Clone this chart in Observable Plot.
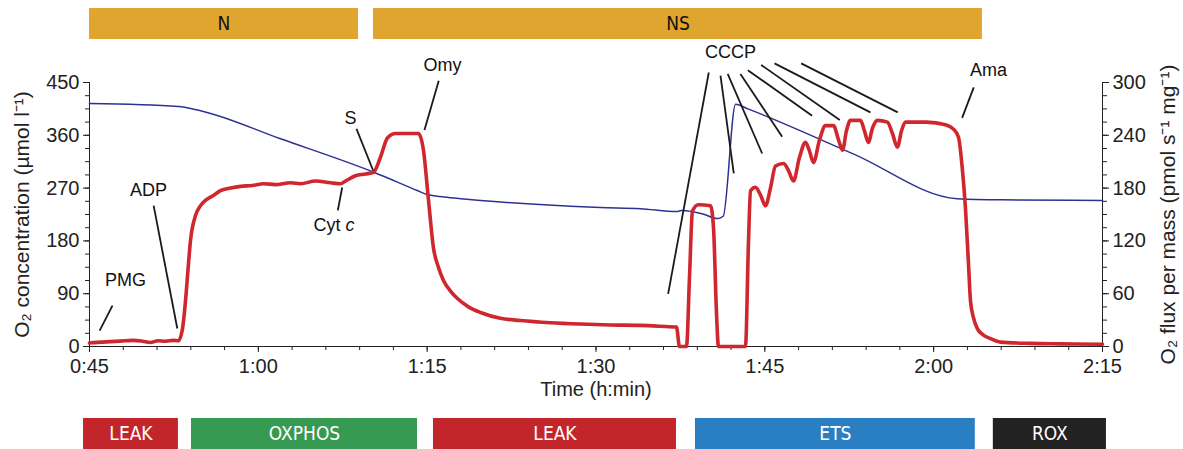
<!DOCTYPE html>
<html><head><meta charset="utf-8">
<script src="https://cdn.jsdelivr.net/npm/d3@7"></script>
<script src="https://cdn.jsdelivr.net/npm/@observablehq/plot@0.6"></script>
<style>body{margin:0;background:#fff}</style>
</head><body><div id="chart"></div>
<script>
// O2 concentration (µmol/l) — blue line, left axis
const concTime =  [45, 52.9, 54.86, 61.97, 70.26, 74.11, 75.0, 76.5, 78.0, 79.74, 85, 90.4, 93.95, 97.2, 97.6, 99.5, 100.76, 101.3, 102.4, 103.5, 112.9, 122.1, 126, 135];
const concValues = [414, 409, 402, 354, 297, 266, 259, 255, 252, 249, 242, 237, 235, 230, 232, 226, 218, 222, 413, 405, 328, 252, 250, 249];

// O2 flux per mass (pmol s-1 mg-1) — red line, right axis
const fluxTime = [45.0, 45.98, 46.87, 48.2, 48.9, 49.7, 50.4, 51.1, 51.75, 52.46, 52.9, 53.26, 53.53, 53.8, 53.97, 54.42, 54.86, 55.3, 55.93, 56.64, 57.53, 58.42, 59.48, 60.46, 61.52, 62.86, 63.75, 65.08, 66.41, 67.3, 67.74, 68.63, 69.52, 70.23, 70.85, 71.47, 72.19, 74.23, 74.67, 75.12, 75.56, 76.0, 76.45, 77.07, 77.69, 78.67, 79.74, 81.51, 83.29, 85.96, 88.62, 91.29, 93.95, 95.73, 97.15, 97.42, 98.04, 98.31, 98.57, 99.1, 100.17, 100.44, 100.7, 100.88, 103.28, 103.55, 103.73, 104.17, 104.62, 105.06, 105.5, 105.95, 106.66, 107.1, 107.54, 108.08, 108.61, 108.97, 109.32, 109.86, 110.39, 111.1, 111.54, 111.9, 112.25, 112.61, 113.5, 113.85, 114.2, 114.56, 115.0, 115.89, 116.34, 116.78, 117.14, 117.5, 119.36, 121.05, 121.76, 122.2, 122.56, 122.82, 123.09, 123.27, 123.53, 123.89, 124.42, 125.05, 125.93, 128.6, 131.27, 135.0];
const fluxValues = [4, 5, 5.5, 6.5, 7, 6, 4.5, 6.5, 6, 7, 6.5, 20, 52, 95, 120, 149, 160, 166, 171, 177, 180, 182, 183, 185, 184, 186, 185, 188, 186, 185, 188, 194, 196, 198, 215, 237, 242, 242, 223, 166, 112, 90, 75, 63, 54.5, 45, 38.6, 32, 29.5, 27, 25.5, 24.5, 24, 23, 22, 0, 0, 80, 154, 161, 160, 135, 40, 0, 0, 120, 177, 181, 172, 160, 180, 205, 208, 200, 188, 215, 232, 222, 209, 235, 251, 251, 235, 223, 245, 257, 257, 245, 232, 248, 257, 255, 242, 226.5, 245, 255, 255, 252, 247, 238, 200, 158, 95, 52, 33, 20, 13, 9, 5, 3.5, 3, 2.5];

// Time ticks (minutes), left / right tick values
const timeTicks = [45, 60, 75, 90, 105, 120, 135];
const concTicks = [0, 90, 180, 270, 360, 450];
const fluxTicks = [0, 60, 120, 180, 240, 300];

// Substrate / state bars
const topLabels = ["N", "NS"];
const topStart = [45.0, 70.23];
const topEnd = [68.9, 124.33];
const stateLabels = ["LEAK", "OXPHOS", "LEAK", "ETS", "ROX"];
const stateStart = [44.47, 54.06, 75.56, 98.84, 125.3];
const stateEnd = [52.9, 74.14, 97.15, 123.7, 135.35];
const stateColors = ["#c2262b", "#379a53", "#c2262b", "#2a7fc3", "#222222"];

// Annotations (time, O2-concentration units)
const annoLabels = ["PMG", "ADP", "S", "Omy", "CCCP", "Ama"];
const annoT = [48.2, 50.24, 68.19, 76.36, 101.95, 124.87];
const annoV = [112.5, 266, 388.6, 479, 501, 470.5];
const linkT1 = [47.04, 50.7, 67.45, 68.72, 76.03, 100.02, 101.06, 101.7, 102.83, 103.49, 104.67, 105.86, 108.23, 123.56];
const linkV1 = [69.8, 240, 271, 371, 453, 467, 461.7, 464.6, 464.6, 471, 480, 482.6, 482.6, 441.7];
const linkT2 = [45.9, 52.8, 67.06, 70.2, 74.76, 96.41, 102.24, 104.76, 106.54, 109.2, 111.66, 114.38, 116.81, 122.53];
const linkV2 = [27, 30.7, 232, 300, 369, 89.8, 295, 329, 357.7, 393.5, 386, 399, 399, 389.6];

const k = 1.5; // flux -> concentration scale (300 flux = 450 conc)
const conc = concTime.map((t, i) => ({t, v: concValues[i]}));
const flux = fluxTime.map((t, i) => ({t, v: fluxValues[i] * k}));
const tops = topLabels.map((l, i) => ({l, a: topStart[i], b: topEnd[i]}));
const states = stateLabels.map((l, i) => ({l, a: stateStart[i], b: stateEnd[i], c: stateColors[i]}));
const annos = annoLabels.map((l, i) => ({l, t: annoT[i], v: annoV[i]}));
const links = linkT1.map((t, i) => ({t1: t, v1: linkV1[i], t2: linkT2[i], v2: linkV2[i]}));

const fmtTime = t => `${Math.floor(t / 60)}:${String(t % 60).padStart(2, "0")}`;
const narrow = "'Liberation Sans Narrow','DejaVu Sans Condensed','Roboto Condensed','Liberation Sans',sans-serif";

const chart = Plot.plot({
  width: 1183, height: 449,
  marginLeft: 89, marginRight: 81, marginTop: 82, marginBottom: 103,
  x: {domain: [45, 135]},
  y: {domain: [0, 450]},
  style: {fontFamily: "'Liberation Sans', Arial, sans-serif", fontSize: "18px", color: "#222", background: "white"},
  marks: [
    // top substrate bars
    Plot.rect(tops, {x1: "a", x2: "b", y1: () => 523.3, y2: () => 576.1, fill: "#e0a52e", clip: false}),
    Plot.text(tops, {x: d => (d.a + d.b) / 2, y: () => 549.7, text: "l", fill: "#111", fontSize: 19, fontFamily: narrow, clip: false}),
    // bottom state bars
    Plot.rect(states, {x1: "a", x2: "b", y1: () => -122.7, y2: () => -175.6, fill: "c", clip: false}),
    Plot.text(states, {x: d => (d.a + d.b) / 2, y: () => -149.2, text: "l", fill: "white", fontSize: 19, fontFamily: narrow, clip: false}),
    // axes
    Plot.axisX({ticks: timeTicks, tickFormat: fmtTime, tickSize: 6, tickPadding: 6, label: null, fontSize: 20}),
    Plot.axisX({ticks: d3.range(45, 136, 3), tickSize: 4, tickFormat: () => "", label: null}),
    Plot.axisY({ticks: concTicks, tickSize: 6, tickPadding: 4, label: null, fontSize: 20}),
    Plot.axisY({ticks: d3.range(0, 451, 22.5), tickSize: 4, tickFormat: () => "", label: null}),
    Plot.axisY({anchor: "right", ticks: concTicks, tickFormat: d => d / k, tickSize: 6, tickPadding: 4, label: null, fontSize: 20}),
    Plot.axisY({anchor: "right", ticks: d3.range(0, 451, 22.5), tickSize: 4, tickFormat: () => "", label: null}),
    Plot.ruleY([0], {stroke: "#222"}),
    Plot.ruleX([45], {stroke: "#222"}),
    Plot.ruleX([135], {stroke: "#222"}),
    Plot.text(["O₂ concentration (µmol l⁻¹)"], {frameAnchor: "left", textAnchor: "middle", dx: -67, rotate: -90, fontSize: 21, fill: "#222"}),
    Plot.text(["O₂ flux per mass (pmol s⁻¹ mg⁻¹)"], {frameAnchor: "right", textAnchor: "middle", dx: 66, rotate: -90, fontSize: 21, fill: "#222"}),
    Plot.text(["Time (h:min)"], {frameAnchor: "bottom", dy: 49, fontSize: 20, fill: "#222"}),
    // data
    Plot.line(conc, {x: "t", y: "v", stroke: "#2e3192", strokeWidth: 1.5, curve: "monotone-x"}),
    Plot.line(flux, {x: "t", y: "v", stroke: "#d0262d", strokeWidth: 3.6, strokeLinejoin: "round", curve: "monotone-x"}),
    // annotations
    Plot.link(links, {x1: "t1", y1: "v1", x2: "t2", y2: "v2", stroke: "#1a1a1a", strokeWidth: 1.8, clip: false}),
    Plot.text(annos, {x: "t", y: "v", text: "l", fontSize: 18, fill: "#111", clip: false}),
    Plot.text(["Cyt"], {x: () => 67.3, y: () => 206, textAnchor: "end", fontSize: 18, fill: "#111"}),
    Plot.text(["c"], {x: () => 67.75, y: () => 206, textAnchor: "start", fontSize: 18, fontStyle: "italic", fill: "#111"})
  ]
});
document.getElementById("chart").append(chart);
</script>
</body></html>
